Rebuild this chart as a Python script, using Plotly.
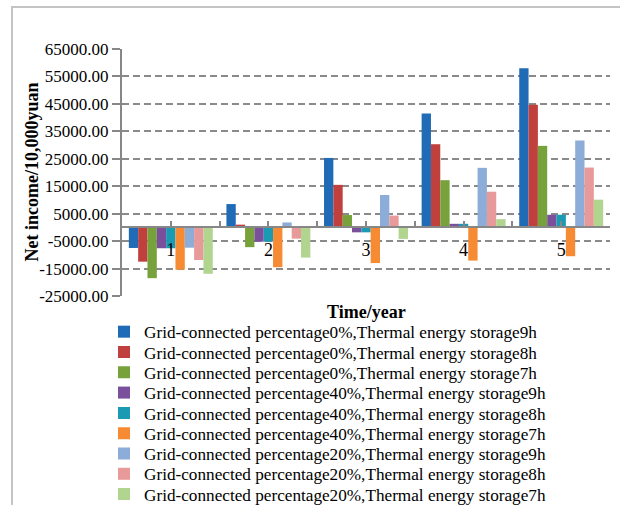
import plotly.graph_objects as go

years = [1, 2, 3, 4, 5]
year_labels = ["1", "2", "3", "4", "5"]

series_names = [
    "Grid-connected percentage0%,Thermal energy storage9h",
    "Grid-connected percentage0%,Thermal energy storage8h",
    "Grid-connected percentage0%,Thermal energy storage7h",
    "Grid-connected percentage40%,Thermal energy storage9h",
    "Grid-connected percentage40%,Thermal energy storage8h",
    "Grid-connected percentage40%,Thermal energy storage7h",
    "Grid-connected percentage20%,Thermal energy storage9h",
    "Grid-connected percentage20%,Thermal energy storage8h",
    "Grid-connected percentage20%,Thermal energy storage7h",
]

g0_9h = [-7500, 8500, 25300, 41500, 58000]
g0_8h = [-12500, 1000, 15500, 30300, 44700]
g0_7h = [-18500, -7200, 4500, 17200, 29700]
g40_9h = [-7600, -5200, -1800, 1300, 4600]
g40_8h = [-7600, -5200, -1800, 1300, 4600]
g40_7h = [-15400, -14500, -13000, -12100, -10500]
g20_9h = [-7400, 1800, 11800, 21700, 31700]
g20_8h = [-11900, -4100, 4300, 13000, 21800]
g20_7h = [-16900, -11000, -4200, 3000, 10100]

series_values = [g0_9h, g0_8h, g0_7h, g40_9h, g40_8h, g40_7h, g20_9h, g20_8h, g20_7h]
colors = ["#1f6bb5", "#c0403e", "#77a23b", "#7a4f9c", "#1b9bb3",
          "#f68b33", "#8badd8", "#e8999a", "#b1d58e"]

y_ticks = [-25000, -15000, -5000, 5000, 15000, 25000, 35000, 45000, 55000, 65000]
y_min, y_max = -25000, 65000

FONT = "Liberation Serif, Times New Roman, serif"
AXC = "#878787"

W, H = 621, 506
ml, mr, mt, mb = 122, 11, 49, 210
pw, ph = W - ml - mr, H - mt - mb

def px2paper_x(px):
    return (px - ml) / pw

def px2paper_y(py):
    return (H - mb - py) / ph

fig = go.Figure()
legend_layouts = {}
for i, (name, vals, col) in enumerate(zip(series_names, series_values, colors)):
    key = "legend" if i == 0 else f"legend{i + 1}"
    fig.add_trace(go.Bar(x=years, y=vals, name=name, legend=key,
                         marker=dict(color=col, line=dict(width=0))))
    row_center = 332 + 20.3 * i
    legend_layouts[key] = dict(
        xref="container", yref="container",
        x=104 / W, y=1 - row_center / H, xanchor="left", yanchor="middle",
        font=dict(family=FONT, size=17.2, color="black"),
        bgcolor="rgba(0,0,0,0)", borderwidth=0, itemwidth=30,
    )

x_tickvals = []
x_ticktext = []
for i, y in enumerate(years):
    x_tickvals += [y - 0.5, y]
    x_ticktext += ["", year_labels[i]]
x_tickvals.append(years[-1] + 0.5)
x_ticktext.append("")

fig.update_layout(
    width=W, height=H,
    margin=dict(l=ml, r=mr, t=mt, b=mb, autoexpand=False),
    paper_bgcolor="white", plot_bgcolor="white",
    barmode="group", bargap=0.14, bargroupgap=0,
    font=dict(family=FONT, size=18, color="black"),
    showlegend=True,
    xaxis=dict(
        range=[0.5, 5.5], anchor="free",
        position=(0 - y_min) / (y_max - y_min),
        tickmode="array", tickvals=x_tickvals, ticktext=x_ticktext,
        ticks="inside", ticklen=5, tickwidth=2, tickcolor=AXC,
        showline=True, linecolor=AXC, linewidth=2,
        showgrid=False, zeroline=False,
        ticklabelstandoff=6,
        tickfont=dict(family=FONT, size=18, color="black"),
    ),
    yaxis=dict(
        range=[y_min, y_max],
        tickmode="array", tickvals=y_ticks,
        ticktext=[f"{v:.2f}" for v in y_ticks],
        ticks="outside", ticklen=8, tickwidth=2, tickcolor=AXC,
        showline=True, linecolor=AXC, linewidth=2,
        showgrid=True, gridcolor="#8a8a8a", gridwidth=2, griddash="7px,4px",
        zeroline=False,
        tickfont=dict(family=FONT, size=17, color="black"),
        ticklabelstandoff=0,
    ),
    annotations=[
        dict(text="<b>Net income/10,000yuan</b>", textangle=-90,
             xref="paper", yref="paper", x=px2paper_x(31), y=0.5,
             xanchor="center", yanchor="middle", showarrow=False,
             font=dict(family=FONT, size=18, color="black")),
        dict(text="<b>Time/year</b>",
             xref="paper", yref="paper", x=0.5, y=px2paper_y(312),
             xanchor="center", yanchor="middle", showarrow=False,
             font=dict(family=FONT, size=18, color="black")),
    ],
    shapes=[
        dict(type="line", xref="paper", yref="paper", layer="above",
             x0=px2paper_x(12), x1=px2paper_x(12),
             y0=px2paper_y(6), y1=px2paper_y(505),
             line=dict(color="#c4c4c4", width=2)),
        dict(type="line", xref="paper", yref="paper", layer="above",
             x0=px2paper_x(12), x1=px2paper_x(620),
             y0=px2paper_y(7), y1=px2paper_y(7),
             line=dict(color="#c4c4c4", width=2)),
    ],
    **legend_layouts,
)

fig.write_html(
    "out.html",
    config={"displayModeBar": False},
    post_script="document.body.style.margin='0';document.body.style.overflow='hidden';",
)
